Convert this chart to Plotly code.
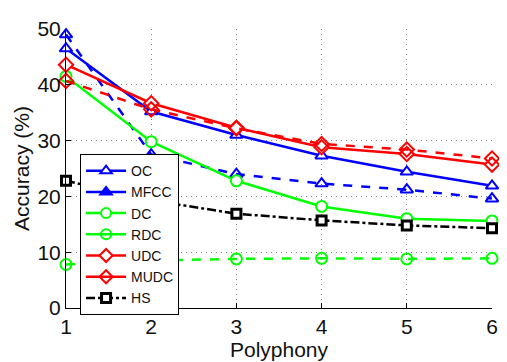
import plotly.graph_objects as go

polyphony = [1, 2, 3, 4, 5, 6]
oc = [46.5, 35.2, 31.0, 27.3, 24.4, 21.9]
mfcc = [49.0, 27.5, 24.0, 22.3, 21.2, 19.6]
dc = [41.5, 29.8, 22.8, 18.2, 16.0, 15.6]
rdc = [7.8, 8.5, 8.8, 8.9, 8.8, 8.9]
udc = [43.6, 36.7, 32.3, 28.8, 27.6, 25.7]
mudc = [40.7, 35.6, 32.2, 29.4, 28.4, 26.8]
hs = [22.8, 19.3, 16.9, 15.7, 14.8, 14.3]

BLUE = "#0000ff"
GREEN = "#00ff00"
RED = "#ff0000"
BLACK = "#000000"

series = [
    ("OC", oc, BLUE, "solid", "triangle-up", "white"),
    ("MFCC", mfcc, BLUE, "dash", "triangle-up-open", BLUE),
    ("DC", dc, GREEN, "solid", "circle", "white"),
    ("RDC", rdc, GREEN, "dash", "circle-open", GREEN),
    ("UDC", udc, RED, "solid", "diamond", "white"),
    ("MUDC", mudc, RED, "dash", "diamond-open", RED),
    ("HS", hs, BLACK, "dashdot", "square", "white"),
]

legend_symbols = {
    "OC": ("triangle-up", "white"),
    "MFCC": ("triangle-up", BLUE),
    "DC": ("circle", "white"),
    "RDC": ("circle-open", GREEN),
    "UDC": ("diamond", "white"),
    "MUDC": ("diamond-open", RED),
    "HS": ("square", "white"),
}

fig = go.Figure()
for name, vals, col, dash, sym, fill in series:
    mline = 3 if name == "HS" else 2
    fig.add_trace(go.Scatter(
        x=polyphony, y=vals, mode="lines+markers", name=name, showlegend=False,
        cliponaxis=False,
        line=dict(color=col, width=2.5, dash=dash),
        marker=dict(symbol=sym, size=11 if name != "HS" else 9, color=fill,
                    line=dict(color=col, width=mline)),
    ))

for name, vals, col, dash, sym, fill in series:
    lsym, lfill = legend_symbols[name]
    mline = 3 if name == "HS" else 2
    fig.add_trace(go.Scatter(
        x=[None], y=[None], mode="lines+markers", name=name,
        line=dict(color=col, width=2.5, dash="dashdot" if name == "HS" else "solid"),
        marker=dict(symbol=lsym, size=10 if name != "HS" else 9, color=lfill,
                    line=dict(color=col, width=mline)),
    ))

axis_common = dict(
    showgrid=True, gridcolor="#808080", griddash="1px,4px", gridwidth=1,
    showline=True, linecolor="black", linewidth=1, mirror=False,
    ticks="inside", ticklen=5, tickcolor="black", zeroline=False,
    ticklabeloverflow="allow",
    tickfont=dict(size=21, color="#111111", family="Liberation Sans, Arial, sans-serif"),
)

# The page body has an 8px default margin, so the figure is sized/offset to fit the window.
fig.update_layout(
    width=499, height=354,
    margin=dict(l=58, r=11, t=9, b=48),
    paper_bgcolor="white", plot_bgcolor="white",
    font=dict(family="Liberation Sans, Arial, sans-serif", color="#111111"),
    xaxis=dict(range=[1, 6], tickvals=polyphony,
               title=dict(text="Polyphony", font=dict(size=21), standoff=0), **axis_common),
    yaxis=dict(range=[0, 50], tickvals=[0, 10, 20, 30, 40, 50],
               title=dict(text="Accuracy (%)", font=dict(size=21), standoff=2), **axis_common),
    legend=dict(x=0.033, y=0.263, xanchor="left", yanchor="middle",
                bgcolor="white", bordercolor="black", borderwidth=1,
                font=dict(size=14), tracegroupgap=0, itemwidth=40),
    showlegend=True,
)

fig.write_html("out.html")
